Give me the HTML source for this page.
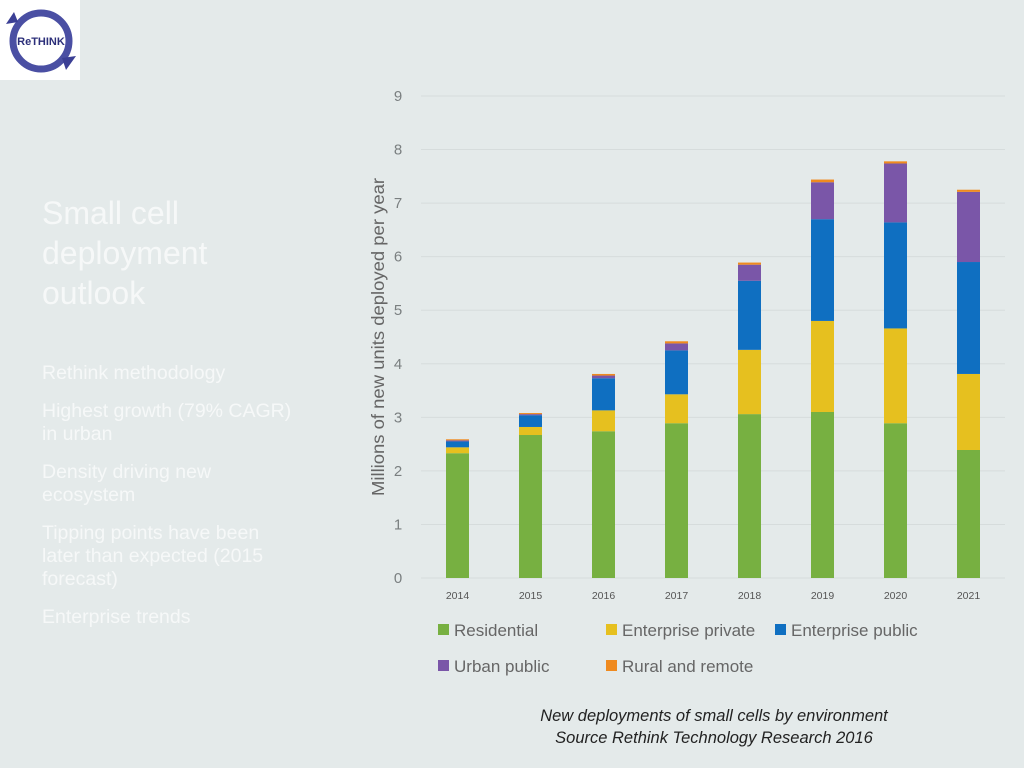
<!DOCTYPE html>
<html><head><meta charset="utf-8"><style>
html,body{margin:0;padding:0;background:#e4eaea;}
body{width:1024px;height:768px;position:relative;overflow:hidden;font-family:"Liberation Sans",sans-serif;}
.t{position:absolute;left:42px;color:#f6f8f8;white-space:nowrap;}
</style></head><body>
<div style="position:absolute;left:0;top:0;width:80px;height:80px;background:#fff;">
<svg width="80" height="80" viewBox="0 0 80 80">
<circle cx="41" cy="41" r="28" fill="none" stroke="#4a4fa3" stroke-width="7"/>
<polygon points="62,58 76,56 66,70" fill="#3b3f95"/>
<polygon points="18,22 6,24 14,12" fill="#3b3f95"/>
<text x="41" y="45" font-size="11" font-weight="bold" text-anchor="middle" fill="#2c2f7a">ReTHINK</text>
</svg></div>
<div class="t" style="top:193px;font-size:32px;line-height:40px;">Small cell<br>deployment<br>outlook</div>
<div class="t" style="top:362px;font-size:19.5px;line-height:23px;">
<div style="margin-bottom:15px">Rethink methodology</div>
<div style="margin-bottom:15px">Highest growth (79% CAGR)<br>in urban</div>
<div style="margin-bottom:15px">Density driving new<br>ecosystem</div>
<div style="margin-bottom:15px">Tipping points have been<br>later than expected (2015<br>forecast)</div>
<div>Enterprise trends</div></div>
<svg id="chart" width="1024" height="768" style="position:absolute;left:0;top:0;"></svg>
<div style="position:absolute;left:414px;width:600px;top:705px;text-align:center;font-style:italic;font-size:16.5px;line-height:22px;color:#222;">New deployments of small cells by environment<br>Source Rethink Technology Research 2016</div>
<script>
const years=['2014','2015','2016','2017','2018','2019','2020','2021'];
const residential=[2.33,2.67,2.74,2.89,3.06,3.1,2.89,2.39];
const entPrivate=[0.11,0.15,0.39,0.54,1.2,1.7,1.77,1.42];
const entPublic=[0.11,0.22,0.6,0.82,1.29,1.9,1.98,2.09];
const urbanPublic=[0.02,0.02,0.05,0.13,0.3,0.69,1.1,1.31];
const rural=[0.02,0.02,0.03,0.04,0.04,0.05,0.04,0.04];
const yTicks=[0,1,2,3,4,5,6,7,8,9];
const seriesNames=['Residential','Enterprise private','Enterprise public','Urban public','Rural and remote'];
const colors=['#77b041','#e6c01f','#0f6fc1','#7a56a8','#ef8a1f'];
const S=[residential,entPrivate,entPublic,urbanPublic,rural];
const svg=document.getElementById('chart');const NS='http://www.w3.org/2000/svg';
function mk(t,a){const e=document.createElementNS(NS,t);for(const k in a)e.setAttribute(k,a[k]);svg.appendChild(e);return e;}
const y0=578,unit=(578-96)/9,x0=421,band=73;
const y=v=>y0-v*unit;const xc=i=>x0+band*(i+0.5);
yTicks.forEach(v=>{
const l=mk('line',{x1:421,x2:1005,y1:y(v),y2:y(v),stroke:'#d6dcdc','stroke-width':1});

const t=mk('text',{x:398,y:y(v)+5,'font-size':15,'text-anchor':'middle',fill:'#7a7f80'});t.textContent=v;
});
years.forEach((yr,i)=>{let acc=0;
S.forEach((s,k)=>{const r=mk('rect',{x:xc(i)-11.5,width:23,y:y(acc+s[i]),height:s[i]*unit,fill:colors[k]});
acc+=s[i];});
const t=mk('text',{x:xc(i),y:599,'font-size':10.5,'text-anchor':'middle',fill:'#555'});t.textContent=yr;
});
const yl=mk('text',{transform:'translate(384,337) rotate(-90)','font-size':17.5,'text-anchor':'middle',fill:'#666',textLength:318,lengthAdjust:'spacingAndGlyphs'});yl.textContent='Millions of new units deployed per year';

const lp=[[438,630],[606,630],[775,630],[438,666],[606,666]];
seriesNames.forEach((n,k)=>{const r=mk('rect',{x:lp[k][0],y:lp[k][1]-6,width:11,height:11,fill:colors[k]});

const t=mk('text',{x:lp[k][0]+16,y:lp[k][1]+6,'font-size':17,fill:'#666'});t.textContent=n;
});
</script>
</body></html>
